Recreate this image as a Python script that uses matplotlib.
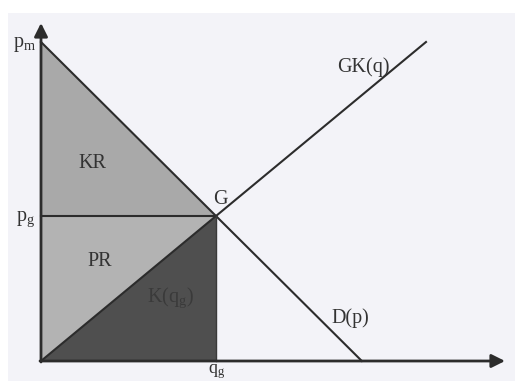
import matplotlib
matplotlib.use("Agg")
import matplotlib.pyplot as plt
from matplotlib.patches import Polygon, Rectangle

# Market quantities and prices (drawing units)
q_g = 175      # equilibrium quantity
p_g = 145      # equilibrium price
p_m = 319      # maximum (prohibitive) price
q_gk_end = 385 # where the supply curve GK(q) is drawn to
x_axis_len = 464
y_axis_len = 338

area_labels = ["KR", "PR", "K(q$_\\mathrm{g}$)"]
curve_labels = ["GK(q)", "D(p)"]

plt.rcParams["mathtext.fontset"] = "custom"
plt.rcParams["mathtext.rm"] = "Liberation Serif"
plt.rcParams["mathtext.it"] = "Liberation Serif:italic"
plt.rcParams["font.family"] = ["Liberation Serif", "DejaVu Serif"]

fig = plt.figure(figsize=(5.15, 3.81), dpi=100, facecolor="white")
ax = fig.add_axes([0, 0, 1, 1])
ax.set_xlim(-41, 474)
ax.set_ylim(-20, 361)
ax.axis("off")

# paper tone
ax.add_patch(Rectangle((-33, -20), 520, 368, facecolor="#f3f3f8",
                       edgecolor="none", zorder=0))

line_c = "#2c2c2c"
text_c = "#333333"

# consumer surplus (KR)
ax.add_patch(Polygon([(0, p_m), (0, p_g), (q_g, p_g)], closed=True,
                     facecolor="#a9a9a9", edgecolor="none", zorder=1))
# producer surplus (PR)
ax.add_patch(Polygon([(0, 0), (0, p_g), (q_g, p_g)], closed=True,
                     facecolor="#b3b3b3", edgecolor="none", zorder=1))
# cost K(q_g)
ax.add_patch(Polygon([(0, 0), (q_g, 0), (q_g, p_g)], closed=True,
                     facecolor="#4f4f4f", edgecolor="none", zorder=1))

# demand curve D(p)
slope_d = (p_m - p_g) / q_g
q_d0 = p_m / slope_d
ax.plot([0, q_d0], [p_m, 0], color=line_c, lw=1.5, zorder=3)

# marginal cost curve GK(q)
slope_s = p_g / q_g
ax.plot([0, q_gk_end], [0, slope_s * q_gk_end], color=line_c, lw=1.5, zorder=3)

# price line and q_g edge
ax.plot([0, q_g], [p_g, p_g], color=line_c, lw=1.5, zorder=3)
ax.plot([q_g, q_g], [0, p_g], color="#3a3a3a", lw=1.0, zorder=3)

# axes with arrowheads
arrow = dict(arrowstyle="-|>", lw=2.0, color=line_c, mutation_scale=20,
             shrinkA=0, shrinkB=0)
ax.annotate("", xy=(x_axis_len, 0), xytext=(-1, 0), arrowprops=arrow, zorder=4)
ax.annotate("", xy=(0, y_axis_len), xytext=(0, -1), arrowprops=arrow, zorder=4)

fs = 14.5
ax.text(-16, 316, r"$\mathrm{p_m}$", fontsize=fs, color=text_c, ha="center", va="center")
ax.text(-15, 142, r"$\mathrm{p_g}$", fontsize=fs, color=text_c, ha="center", va="center")
ax.text(176, -1, r"$\mathrm{q_g}$", fontsize=13, color=text_c, ha="center", va="top")
ax.text(51, 198, area_labels[0], fontsize=fs, color=text_c, ha="center", va="center", zorder=5)
ax.text(59, 99, area_labels[1], fontsize=fs, color=text_c, ha="center", va="center", zorder=5)
ax.text(129, 63, area_labels[2], fontsize=fs, color="#3a3a3a", ha="center", va="center", zorder=5)
ax.text(179, 161, "G", fontsize=fs, color=text_c, ha="center", va="center")
ax.text(322, 294, curve_labels[0], fontsize=fs, color=text_c, ha="center", va="center")
ax.text(309, 43, curve_labels[1], fontsize=fs, color=text_c, ha="center", va="center")

fig.savefig("out.png", dpi=100, facecolor="white")
